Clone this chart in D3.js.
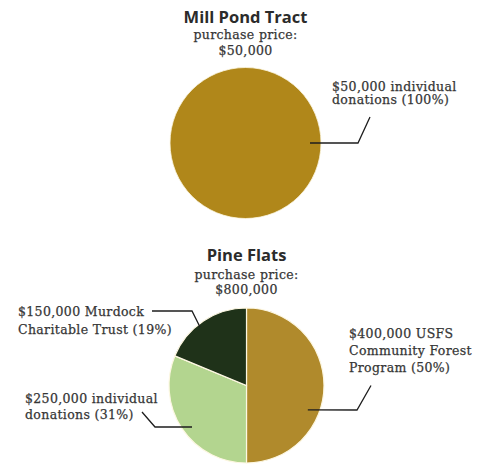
<!DOCTYPE html>
<html>
<head>
<meta charset="utf-8">
<script src="https://cdn.jsdelivr.net/npm/d3@7"></script>
<style>
  body { margin: 0; background: #fff; }
  .title { font-family: "Open Sans", sans-serif; font-weight: 700; font-size: 16.5px; fill: #2b2b2b; }
  .sub, .label { font-family: "DejaVu Serif", serif; font-size: 12.5px; letter-spacing: 0.35px;
    fill: #363636; stroke: #363636; stroke-width: 0.25px; }
</style>
</head>
<body>
<svg id="chart" width="479" height="466"></svg>
<script>
// data
const millPondSources = ["individual donations"];
const millPondValues = [50000];
const millPondLabels = [["$50,000 individual", "donations (100%)"]];

const pineFlatsSources = ["USFS Community Forest Program", "individual donations", "Murdock Charitable Trust"];
const pineFlatsValues = [400000, 250000, 150000];
const pineFlatsLabels = [
  ["$400,000 USFS", "Community Forest", "Program (50%)"],
  ["$250,000 individual", "donations (31%)"],
  ["$150,000 Murdock", "Charitable Trust (19%)"]
];

const millPondColors = ["#b0871a"];
const pineFlatsColors = ["#b08a2c", "#b3d58f", "#1f3219"];

const svg = d3.select("#chart");

// layout: label text positions and leader paths relative to pie centre
const charts = [
  {
    title: "Mill Pond Tract", price: "$50,000",
    cx: 245.5, cy: 143, r: 75.5, titleY: 23, subDy: [16, 32],
    values: millPondValues, labels: millPondLabels, colors: millPondColors,
    layout: [
      { tx: 86.5, ty: -52.5, lh: 13.8, angle: 90, rad: 64.5, path: [[112.5, 0], [124.5, -26]] }
    ]
  },
  {
    title: "Pine Flats", price: "$800,000",
    cx: 246.5, cy: 385.5, r: 77.5, titleY: 261, subDy: [17.5, 33],
    values: pineFlatsValues, labels: pineFlatsLabels, colors: pineFlatsColors,
    layout: [
      { tx: 102.5, ty: -47.5, lh: 17, angle: 111.7, rad: 66, path: [[110.5, 24.5], [124.5, 0]] },
      { tx: -221.5, ty: 17.5, lh: 16, angle: 232.7, rad: 68.5, path: [[-91.5, 41.5], [-104.5, 26.5]] },
      { tx: -228.5, ty: -69.5, lh: 17.5, angle: 321.5, rad: 74.7, path: [[-54.5, -74.5], [-94.5, -74.5]] }
    ]
  }
];

const pie = d3.pie().sort(null).value(d => d);

charts.forEach(c => {
  const g = svg.append("g").attr("transform", `translate(${c.cx},${c.cy})`);
  const arc = d3.arc().innerRadius(0).outerRadius(c.r);

  g.selectAll("path.slice")
    .data(pie(c.values))
    .join("path")
    .attr("class", "slice")
    .attr("d", arc)
    .attr("fill", (d, i) => c.colors[i])
    .attr("stroke", "#fdf7e2")
    .attr("stroke-width", c.values.length > 1 ? 1.2 : 0.8);

  // titles
  svg.append("text").attr("class", "title")
    .attr("x", c.cx).attr("y", c.titleY)
    .attr("text-anchor", "middle").text(c.title);
  svg.append("text").attr("class", "sub")
    .attr("x", c.cx).attr("y", c.titleY + c.subDy[0])
    .attr("text-anchor", "middle").text("purchase price:");
  svg.append("text").attr("class", "sub")
    .attr("x", c.cx).attr("y", c.titleY + c.subDy[1])
    .attr("text-anchor", "middle").text(c.price);

  // labels + leaders
  const line = d3.line();
  c.layout.forEach((l, i) => {
    const a = l.angle * Math.PI / 180;
    const anchor = [Math.sin(a) * l.rad, -Math.cos(a) * l.rad];
    g.append("path")
      .attr("d", line([anchor, ...l.path]))
      .attr("fill", "none")
      .attr("stroke", "#1e1e1e")
      .attr("stroke-width", 1.3);

    const t = g.append("text").attr("class", "label")
      .attr("x", l.tx).attr("y", l.ty);
    c.labels[i].forEach((s, k) => {
      t.append("tspan").attr("x", l.tx).attr("dy", k === 0 ? 0 : l.lh).text(s);
    });
  });
});
</script>
</body>
</html>
